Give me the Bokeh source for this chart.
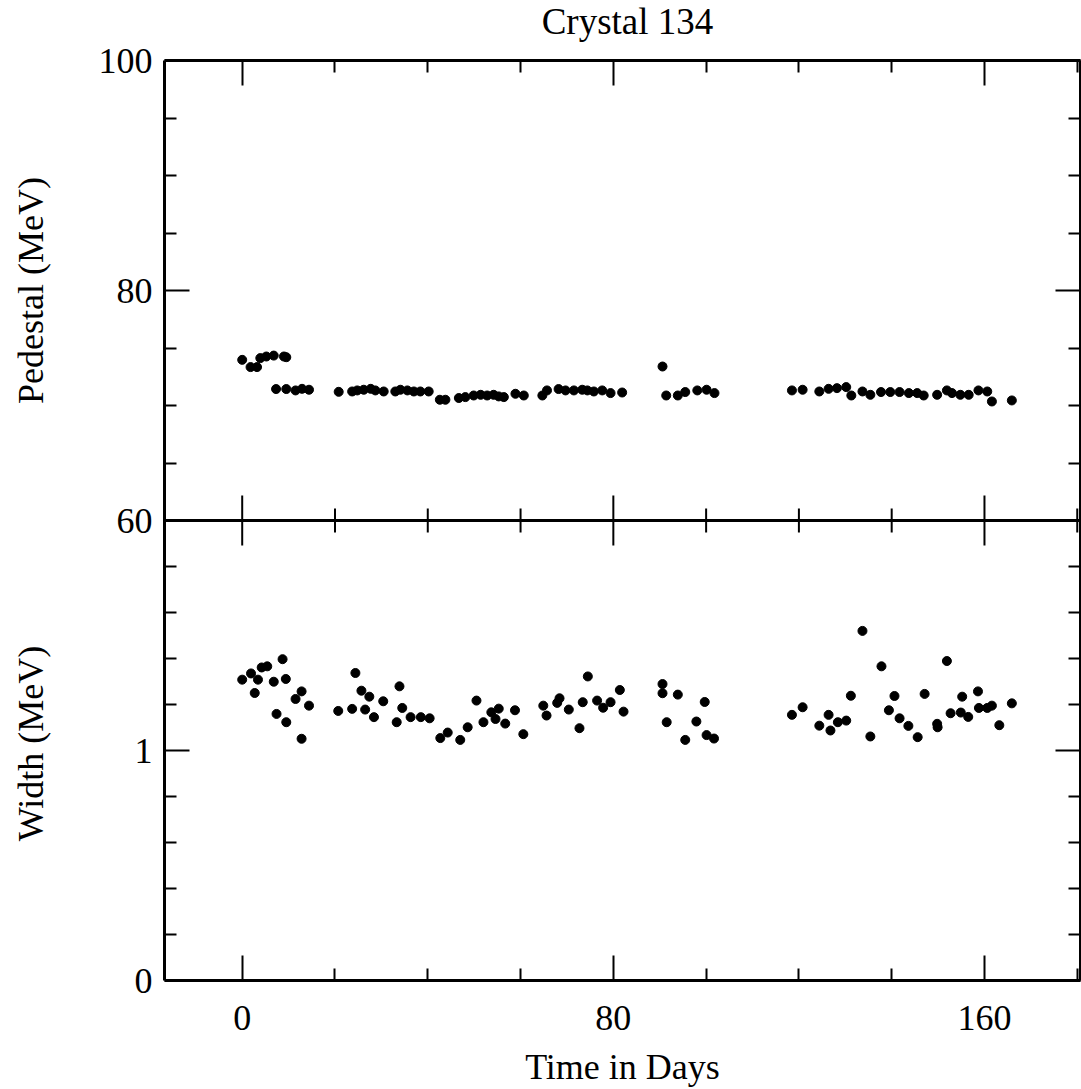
import math
from bokeh.plotting import figure
from bokeh.layouts import row, column
from bokeh.models import Range1d, LinearAxis, FixedTicker, Span
from bokeh.core.properties import value
from bokeh.embed import file_html
from bokeh.resources import INLINE

# ---------------- texts ----------------
title_text = "Crystal 134"
x_label = "Time in Days"
ped_label = "Pedestal (MeV)"
width_label = "Width (MeV)"

# ---------------- ticks ----------------
x_major = [0, 80, 160]
x_minor = [20, 40, 60, 100, 120, 140, 180]
ped_major = [60, 80, 100]
ped_minor = [65, 70, 75, 85, 90, 95]
width_major = [0, 1]
width_minor = [0.2, 0.4, 0.6, 0.8, 1.2, 1.4, 1.6, 1.8]

# ---------------- data ----------------
ped_days = [0, 1.8, 3.2, 3.9, 5.2, 6.8, 9.0, 9.5, 7.3, 9.5, 11.5, 12.9, 14.4,
            20.8, 23.7, 24.8, 26.2, 27.7, 28.7, 30.5, 33.0, 34.1, 35.6, 37.0,
            38.4, 40.2, 42.6, 43.8, 46.7, 48.1, 49.9, 51.4, 52.8, 54.2, 55.3,
            56.4, 58.9, 60.7, 64.7, 65.7, 68.2, 69.7, 71.5, 73.3, 74.4, 75.8,
            77.6, 79.4, 81.9,
            90.6, 91.4, 93.9, 95.5, 98.1, 100.1, 101.8,
            118.5, 120.8, 124.4, 126.4, 128.2, 130.2, 131.3, 133.7, 135.4,
            137.7, 139.7, 141.7, 143.7, 145.5, 146.9, 149.8, 151.9, 153.0,
            154.8, 156.6, 158.7, 160.6, 161.6, 165.9]
ped_values = [73.97, 73.34, 73.34, 74.12, 74.26, 74.34, 74.26, 74.20, 71.43,
              71.43, 71.31, 71.45, 71.37, 71.19, 71.22, 71.31, 71.37, 71.45,
              71.31, 71.22, 71.22, 71.37, 71.31, 71.22, 71.22, 71.22, 70.50,
              70.50, 70.65, 70.73, 70.87, 70.93, 70.87, 70.93, 70.79, 70.73,
              71.02, 70.87, 70.87, 71.31, 71.43, 71.31, 71.31, 71.37, 71.31,
              71.22, 71.31, 71.08, 71.13,
              73.39, 70.87, 70.87, 71.17, 71.31, 71.37, 71.08,
              71.31, 71.37, 71.22, 71.45, 71.51, 71.60, 70.87, 71.22, 70.93,
              71.17, 71.17, 71.17, 71.08, 71.08, 70.87, 70.93, 71.31, 71.08,
              70.93, 70.93, 71.31, 71.22, 70.35, 70.44]

width_days = [0, 1.9, 3.4, 2.7, 4.2, 5.4, 6.8, 8.7, 9.4, 7.4, 9.5, 11.5, 12.8,
              14.4, 12.8, 20.7, 23.7, 24.4, 25.7, 26.5, 27.4, 28.4, 30.4, 33.3,
              33.9, 34.5, 36.3, 38.5, 40.4, 42.7, 44.3, 47.0, 48.6, 50.5, 52.0,
              53.7, 54.6, 55.3, 56.7, 58.8, 60.6, 64.9, 65.6, 67.9, 68.4, 70.4,
              72.7, 73.4, 74.5, 76.5, 77.8, 79.4, 81.4, 82.2,
              90.6, 90.6, 91.5, 93.9, 95.5, 97.9, 99.7, 100.1, 101.7,
              118.5, 120.8, 124.4, 126.4, 126.8, 128.4, 130.2, 131.2, 133.7,
              135.4, 137.8, 139.4, 140.6, 141.7, 143.6, 145.6, 147.1, 149.8,
              149.9, 151.9, 152.7, 154.9, 155.2, 156.5, 158.6, 158.8, 160.6,
              161.6, 163.2, 165.9]
width_values = [1.308, 1.335, 1.308, 1.250, 1.361, 1.366, 1.299, 1.397, 1.311,
                1.159, 1.123, 1.224, 1.257, 1.195, 1.051, 1.172, 1.181, 1.337,
                1.260, 1.178, 1.234, 1.145, 1.214, 1.123, 1.279, 1.185, 1.145,
                1.145, 1.140, 1.054, 1.078, 1.046, 1.101, 1.217, 1.123, 1.166,
                1.137, 1.182, 1.117, 1.175, 1.071, 1.195, 1.152, 1.207, 1.227,
                1.178, 1.097, 1.210, 1.322, 1.217, 1.186, 1.210, 1.263, 1.169,
                1.289, 1.249, 1.123, 1.243, 1.046, 1.126, 1.211, 1.067, 1.052,
                1.155, 1.188, 1.108, 1.155, 1.087, 1.123, 1.130, 1.238, 1.520,
                1.061, 1.366, 1.175, 1.237, 1.140, 1.107, 1.058, 1.246, 1.116,
                1.101, 1.389, 1.162, 1.165, 1.234, 1.146, 1.257, 1.185, 1.185,
                1.195, 1.110, 1.205]

FONT = "Liberation Serif"
FS = "36px"
W_TOTAL, H_TOTAL = 1081, 1089
TITLE_H = 42          # strip holding the title
TOP, BOTTOM = 18, 107  # borders of the plotting area below the title strip
SIDE_W = 60
MAIN_H = H_TOTAL - TITLE_H

# primary y range: width panel occupies 0..2 (lower half); upper half 2..4
y_range = Range1d(0, 4)
ped_range = Range1d(20, 100)       # ped 60 sits on primary 2, ped 100 on primary 4
x_range = Range1d(-16.75, 180.7)


def ped_to_primary(v):
    f = (v - ped_range.start) / (ped_range.end - ped_range.start)
    return y_range.start + f * (y_range.end - y_range.start)


boundary = ped_to_primary(ped_major[0])


def bare(fig):
    fig.outline_line_color = None
    fig.background_fill_color = "white"
    fig.border_fill_color = "white"


# ---------- title strip ----------
tfig = figure(width=W_TOTAL, height=TITLE_H, x_range=Range1d(0, W_TOTAL),
              y_range=Range1d(0, TITLE_H), output_backend="svg", toolbar_location=None,
              x_axis_type=None, y_axis_type=None,
              min_border_left=0, min_border_right=0, min_border_top=0, min_border_bottom=0)
bare(tfig)
tfig.text(x=[627], y=[TITLE_H - 21], text=[title_text], text_align="center",
          text_baseline="middle", text_font=value(FONT), text_font_size="37px",
          text_color="black")

# ---------- side strip carrying the two rotated y titles ----------
side = figure(width=SIDE_W, height=MAIN_H, x_range=Range1d(0, SIDE_W), y_range=y_range,
              output_backend="svg", toolbar_location=None,
              x_axis_type=None, y_axis_type=None,
              min_border_left=0, min_border_right=0,
              min_border_top=TOP, min_border_bottom=BOTTOM)
side.extra_y_ranges = {"ped": ped_range}
bare(side)
side.text(x=[30], y=[80], text=[ped_label], y_range_name="ped", angle=math.pi / 2,
          text_align="center", text_baseline="middle",
          text_font=value(FONT), text_font_size=FS, text_color="black")
side.text(x=[30], y=[1.03], text=[width_label], angle=math.pi / 2,
          text_align="center", text_baseline="middle",
          text_font=value(FONT), text_font_size=FS, text_color="black")

# ---------- main plot ----------
p = figure(width=W_TOTAL - SIDE_W, height=MAIN_H, x_range=x_range, y_range=y_range,
           output_backend="svg", toolbar_location=None,
           x_axis_type=None, y_axis_type=None,
           min_border_left=164 - SIDE_W, min_border_right=1,
           min_border_top=TOP, min_border_bottom=BOTTOM)
p.extra_y_ranges = {"ped": ped_range}
bare(p)

y_ticks = width_major + [ped_to_primary(v) for v in ped_major]
y_minor = width_minor + [ped_to_primary(v) for v in ped_minor]
overrides = {float(t): str(t) for t in width_major}
overrides.update({float(ped_to_primary(v)): str(v) for v in ped_major})


def style(ax, labels=True):
    ax.axis_line_width = 3
    ax.axis_line_color = "black"
    ax.major_tick_in = 25
    ax.major_tick_out = 0
    ax.minor_tick_in = 12
    ax.minor_tick_out = 0
    ax.major_tick_line_width = 2
    ax.minor_tick_line_width = 2
    ax.major_tick_line_color = "black"
    ax.minor_tick_line_color = "black"
    ax.major_label_text_font = FONT
    if labels:
        ax.major_label_text_font_size = FS
        ax.major_label_text_color = "black"
    else:
        ax.major_label_text_font_size = "0px"
        ax.major_label_text_color = None
        ax.major_label_standoff = 0


left = LinearAxis(ticker=FixedTicker(ticks=y_ticks, minor_ticks=y_minor),
                  major_label_overrides=overrides)
style(left)
left.major_label_standoff = 12
p.add_layout(left, "left")

right = LinearAxis(ticker=FixedTicker(ticks=y_ticks, minor_ticks=y_minor))
style(right, labels=False)
p.add_layout(right, "right")

bottom = LinearAxis(ticker=FixedTicker(ticks=x_major, minor_ticks=x_minor),
                    axis_label=x_label)
style(bottom)
bottom.major_label_standoff = 25
bottom.axis_label_text_font = FONT
bottom.axis_label_text_font_size = FS
bottom.axis_label_text_font_style = "normal"
bottom.axis_label_text_color = "black"
bottom.axis_label_standoff = 14
p.add_layout(bottom, "below")

top = LinearAxis(ticker=FixedTicker(ticks=x_major, minor_ticks=x_minor))
style(top, labels=False)
p.add_layout(top, "above")

# divider between the two panels, with ticks pointing both ways
p.add_layout(Span(location=boundary, dimension="width", line_color="black", line_width=3))
p.scatter(x=x_major, y=[boundary] * len(x_major), marker="dash", size=50,
          angle=math.pi / 2, line_color="black", line_width=2)
p.scatter(x=x_minor, y=[boundary] * len(x_minor), marker="dash", size=24,
          angle=math.pi / 2, line_color="black", line_width=2)

# data
p.scatter(ped_days, ped_values, y_range_name="ped", size=9, color="black")
p.scatter(width_days, width_values, size=9, color="black")

layout = column(tfig, row(side, p, spacing=0), spacing=0)
open("out.html", "w").write(file_html(layout, INLINE))
